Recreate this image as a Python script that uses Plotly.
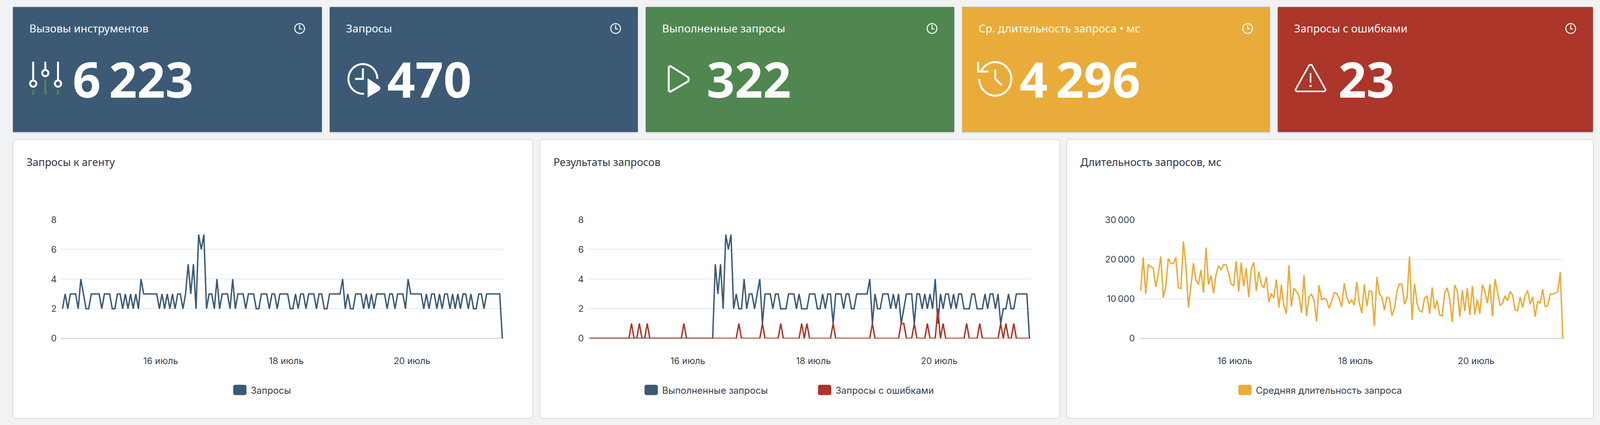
import numpy as np
import pandas as pd
import plotly.graph_objects as go

W = 4112
H = 1088
BG = "#f1f2f4"
BLUE = "#3c5a75"
GREEN = "#50864f"
ORANGE = "#e9ac3a"
RED = "#ab3629"
TEXT = "#363d4b"

card_titles = ["Вызовы инструментов", "Запросы", "Выполненные запросы", "Ср. длительность запроса • мс", "Запросы с ошибками"]
card_values = ["6\u2009223", "470", "322", "4\u2009296", "23"]
panel_titles = ["Запросы к агенту", "Результаты запросов", "Длительность запросов, мс"]
tick_dates = ["2025-07-16", "2025-07-18", "2025-07-20"]
tick_labels = ["16 июль", "18 июль", "20 июль"]

requests = [2,3,2,3,3,3,2,4,3,2,2,3,3,3,3,2,3,3,3,2,2,3,3,2,3,2,3,2,3,2,
            4,3,3,3,3,3,3,2,3,2,3,2,3,2,3,3,2,3,5,3,5,2,7,6,7,2,3,3,2,4,
            2,3,3,3,2,4,2,3,3,3,2,3,3,3,2,2,3,3,3,2,3,3,2,3,3,3,3,2,2,3,
            2,3,3,2,3,3,3,2,3,3,2,2,3,3,3,3,3,4,2,3,2,2,3,3,3,2,3,2,3,2,
            3,3,3,3,2,3,3,2,3,3,3,2,4,3,3,3,3,3,2,3,2,3,3,2,3,2,3,3,2,3,
            2,3,2,3,3,2,3,2,2,3,3,2,3,3,3,3,3,3,0]

completed = [0,0,0,0,0,0,0,0,0,0,0,0,0,0,0,0,0,0,0,0,0,0,0,0,0,0,0,0,0,0,
             0,0,0,0,0,0,0,0,0,0,0,0,0,0,0,0,0,0,5,3,5,2,7,6,7,2,3,2,2,4,
             2,3,3,2,3,4,1,3,3,3,2,3,3,2,2,2,3,3,3,2,3,2,2,2,3,3,3,2,2,3,
             2,3,3,1,3,3,3,2,3,3,2,2,3,3,3,3,3,4,1,3,2,2,3,3,3,2,3,2,3,1,
             2,3,3,3,1,3,3,2,3,2,3,2,4,1,3,2,3,3,2,3,2,3,3,2,2,2,3,3,2,2,
             2,3,2,3,3,2,3,1,2,2,3,2,2,3,3,3,3,3,0]

errors = [0,0,0,0,0,0,0,0,0,0,0,0,0,0,0,0,1,0,0,1,0,0,1,0,0,0,0,0,0,0,
          0,0,0,0,0,0,1,0,0,0,0,0,0,0,0,0,0,0,0,0,0,0,0,0,0,0,0,1,0,0,
          0,0,0,0,0,0,1,0,0,0,0,0,0,1,0,0,0,0,0,0,0,1,0,1,0,0,0,0,0,0,
          0,0,0,1,0,0,0,0,0,0,0,0,0,0,0,0,0,0,1,0,0,0,0,0,0,0,0,0,0,1,
          1,0,0,0,1,0,0,0,0,1,0,0,0,2,0,1,0,0,0,0,0,0,0,0,1,0,0,0,0,1,
          0,0,0,0,0,0,0,1,0,1,0,0,1,0,0,0,0,0,0]

duration = [12000,20500,11300,18650,18100,17800,13000,16400,20700,10300,13250,20200,19000,18900,20500,
            12800,12600,24500,18500,7800,13250,19050,14650,13600,17300,11550,23000,13600,15900,11400,
            16250,18350,17300,18650,18600,16400,13800,13250,19550,11850,19200,13150,17750,10450,17500,
            19200,12000,16900,13700,12800,15550,9200,11300,10250,14900,7800,13600,8150,6300,18550,
            8050,12700,11850,10800,6450,16000,5650,10500,11150,9700,4250,13450,9850,10150,9700,
            7600,9400,11550,11400,10100,7950,13950,10450,8900,9700,8400,14250,9000,6400,13700,
            8150,12000,11850,3200,15550,11250,10550,7150,10450,10100,5750,7600,12000,13800,13750,
            8650,10100,20700,4700,13800,8850,7000,6700,10250,10700,6200,12900,7450,9650,5950,
            5650,11600,12800,9900,4100,13550,12000,5500,12200,6900,12700,5900,13250,6000,9850,
            6300,13600,11850,8900,13750,5550,15000,11850,8400,8850,10800,9500,11850,10950,7250,
            7000,10450,7800,10800,12100,8600,10500,5500,9450,8850,12450,8050,8300,11200,11200,
            11400,11850,16850,0]

assert len(requests) == len(completed) == len(errors) == len(duration) == 169
hours = pd.date_range("2025-07-14 10:30", periods=169, freq="h")


def px(x):
    return x / W


def py(y):
    return 1 - y / H


def line_path(points, close=False):
    d = "M" + " L".join(f"{px(x):.5f},{py(y):.5f}" for x, y in points)
    return d + (" Z" if close else "")


def round_rect(x0, y0, x1, y1, r):
    pts = []
    corners = [(x1 - r, y0 + r, -90), (x1 - r, y1 - r, 0), (x0 + r, y1 - r, 90), (x0 + r, y0 + r, 180)]
    for cx, cy, a in corners:
        for t in np.radians(np.linspace(a, a + 90, 7)):
            pts.append((cx + r * np.cos(t), cy + r * np.sin(t)))
    return line_path(pts, True)


def arc(cx, cy, rx, ry, a0, a1, n=60):
    ts = np.radians(np.linspace(a0, a1, n))
    return [(cx + rx * np.cos(t), cy + ry * np.sin(t)) for t in ts]


shapes = []
annotations = []


def fill_path(path, color, border=None, bw=0):
    shapes.append(dict(type="path", xref="paper", yref="paper", path=path, fillcolor=color,
                       line=dict(color=border if border else color, width=bw), layer="below"))


def stroke(points, color="white", width=5, close=False):
    shapes.append(dict(type="path", xref="paper", yref="paper", path=line_path(points, close),
                       line=dict(color=color, width=width), layer="above"))


def circle(cx, cy, r, fill, color="white", width=5):
    shapes.append(dict(type="circle", xref="paper", yref="paper", x0=px(cx - r), x1=px(cx + r),
                       y0=py(cy + r), y1=py(cy - r), fillcolor=fill,
                       line=dict(color=color, width=width), layer="above"))


def label(x, y, text, size, color, font, anchor="left", bold=False):
    if bold:
        text = "<b>" + text + "</b>"
    annotations.append(dict(x=px(x), y=py(y), xref="paper", yref="paper", text=text, showarrow=False,
                            xanchor=anchor, yanchor="middle", borderpad=0,
                            font=dict(size=size, color=color, family=font)))


# cards
card_x = [(33, 824), (844, 1633), (1653, 2443), (2463, 3251), (3271, 4078)]
card_colors = [BLUE, BLUE, GREEN, ORANGE, RED]
number_x = [185, 990, 1808, 2609, 3425]
for i in range(5):
    x0, x1 = card_x[i]
    fill_path(round_rect(x0 - 1, 16, x1 + 1, 341, 4), "#d6d9de")
    fill_path(round_rect(x0, 18, x1, 338, 2), card_colors[i])
    label(x0 + 41, 72, card_titles[i], 28, "white", "Noto Sans")
    label(number_x[i], 201, card_values[i], 126, "white", "Noto Sans", bold=True)
    # small clock
    cx = x1 - 57
    circle(cx, 73, 12.5, "rgba(0,0,0,0)", width=2.5)
    stroke([(cx, 64), (cx, 74), (cx + 6, 74)], width=2.5)

# sliders icon
for lx, ky, gy in [(85, 214, 230), (116, 187, 203), (148.5, 214, 230)]:
    stroke([(lx, 158), (lx, ky - 9)])
    circle(lx, ky, 8, "rgba(0,0,0,0)")
    stroke([(lx, gy), (lx, 243)], color=GREEN)

# clock with play icon
stroke(arc(929, 202, 37, 38, 0, -272) + [(932, 240)])
stroke([(929, 175), (929, 202), (909, 202)])
shapes.append(dict(type="path", xref="paper", yref="paper", fillcolor="white", layer="above",
                   path=line_path([(943, 204), (970, 222), (972, 226), (970, 230), (943, 246)], True),
                   line=dict(color="white", width=4)))

# play icon
stroke([(1712, 172), (1716, 169), (1762, 198), (1763, 204), (1762, 208), (1716, 235), (1712, 232)], close=True)

# history icon
stroke(arc(2548, 202, 41, 43, -150, 180))
stroke([(2504, 158), (2504, 183), (2530, 183)])
stroke([(2548, 178), (2548, 202), (2564, 218)])

# warning icon
stroke([(3352, 166), (3358, 166), (3394, 230), (3391, 234), (3319, 234), (3316, 230)], width=4, close=True)
stroke([(3355, 187), (3355, 212)], width=4)
circle(3355, 220, 2.5, "white", width=1)

# panels
panel_x = [(33, 1364), (1382, 2713), (2731, 4079)]
for i in range(3):
    x0, x1 = panel_x[i]
    fill_path(round_rect(x0, 357, x1, 1071, 8), "white", "#d8dbe0", 2)
    label(x0 + 34, 414, panel_titles[i], 27, "#2f3440", "Noto Sans")

# legends, text positions measured from the swatch
legend_items = [(597, BLUE, "Запросы"), (1650, BLUE, "Выполненные запросы"),
                (2094, RED, "Запросы с ошибками"), (3170, ORANGE, "Средняя длительность запроса")]
for sx, color, name in legend_items:
    fill_path(round_rect(sx, 985, sx + 34, 1011.5, 5), color)
    label(sx + 44, 999, name, 24, TEXT, "Inter")

plots = [(156, 1290), (1505.4, 2639.5), (2916.3, 4004.6)]
y_top = 562.5
y_bottom = 866.4

fig = go.Figure()
fig.add_trace(go.Scatter(x=hours, y=requests, name="Запросы", xaxis="x", yaxis="y"))
fig.add_trace(go.Scatter(x=hours, y=completed, name="Выполненные запросы", xaxis="x2", yaxis="y2"))
fig.add_trace(go.Scatter(x=hours, y=errors, name="Запросы с ошибками", xaxis="x2", yaxis="y2"))
fig.add_trace(go.Scatter(x=hours, y=duration, name="Средняя длительность запроса", xaxis="x3", yaxis="y3"))
for trace, color in zip(fig.data, [BLUE, BLUE, RED, ORANGE]):
    trace.update(mode="lines", line=dict(color=color, width=3.6), cliponaxis=False, showlegend=False)

x_range = [hours[0] - pd.Timedelta(minutes=36), hours[-1] + pd.Timedelta(minutes=36)]
layout = {}
for i, (x0, x1) in enumerate(plots):
    suffix = "" if i == 0 else str(i + 1)
    layout["xaxis" + suffix] = dict(
        domain=[px(x0), px(x1)], anchor="y" + suffix, type="date", range=x_range, automargin=False,
        tickmode="array", tickvals=tick_dates, ticktext=tick_labels, showgrid=False,
        showline=False, zeroline=False, ticks="", ticklabelstandoff=42,
        tickfont=dict(size=23, color=TEXT, family="Inter"))
    layout["yaxis" + suffix] = dict(
        domain=[py(y_bottom), py(y_top)], anchor="x" + suffix, automargin=False,
        showgrid=True, gridcolor="#e6e8ec", gridwidth=2,
        zeroline=True, zerolinecolor="#c8cad0", zerolinewidth=2, showline=False, ticks="", ticklabelstandoff=10,
        tickfont=dict(size=23, color=TEXT, family="Inter"))
layout["yaxis"].update(range=[0, 8], tickvals=[0, 2, 4, 6, 8])
layout["yaxis2"].update(range=[0, 8], tickvals=[0, 2, 4, 6, 8])
layout["yaxis3"].update(range=[0, 30000], tickvals=[0, 10000, 20000, 30000],
                        ticktext=["0", "10\u2009000", "20\u2009000", "30\u2009000"])

fig.update_layout(template="none", width=W, height=H, margin=dict(l=0, r=0, t=0, b=0, pad=0), paper_bgcolor=BG,
                  plot_bgcolor="rgba(0,0,0,0)", shapes=shapes, annotations=annotations, showlegend=False, **layout)

fig.write_html("out.html", config={"displayModeBar": False},
               post_script="document.body.style.margin='0';document.body.style.overflow='hidden';")
